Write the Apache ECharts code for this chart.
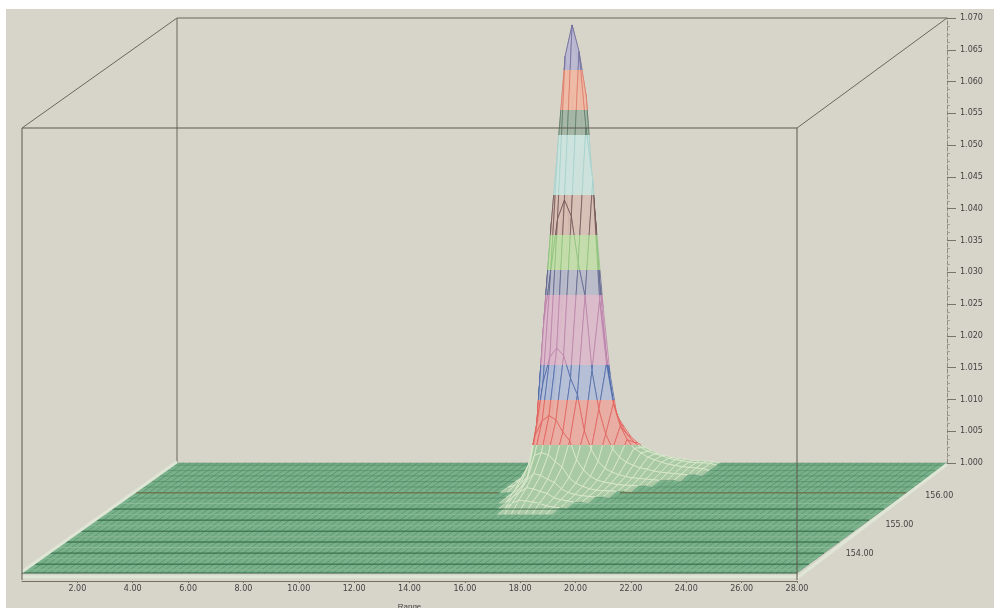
<!DOCTYPE html>
<html>
<head>
<meta charset="utf-8">
<style>
html,body{margin:0;padding:0;background:#fff;width:994px;height:608px;overflow:hidden}
#bg{position:absolute;left:6px;top:9px;width:988px;height:599px;background:#d7d4c9}
#main{position:absolute;left:0;top:0;width:994px;height:608px;filter:blur(0.75px)}
</style>
</head>
<body>
<div id="bg"></div>
<div id="main"></div>
<script src="https://cdn.jsdelivr.net/npm/echarts@6/dist/echarts.min.js"></script>
<script>
// Time axis: wire columns every 0.25, 0 to 28
const timeMin = 0, timeMax = 28, timeStep = 0.25, timeTickStep = 2;
// Intensity axis
const zMin = 1.0, zMax = 1.07, zTickStep = 0.005;
// Depth axis
const depthMin = 153.28, depthMax = 157.05;
const depthTicks = [154, 155, 156];
const depthRows = [153.28,153.39,153.58,153.77,153.96,154.15,154.34,154.52,154.71,154.90,155.09,155.28,155.47,155.66,155.84,156.03,156.22,156.41,156.60,156.79,156.97,157.05];
const strongRow = 156.03;
const strongRowSpans = [[0,13.2],[17.6,28]];
const axisName = 'Range';

// Surface readings: z at columns starting from peakStartTime; beyond each list the surface lies on 1.000
const peakStartTime = 13.25;
const row15705 = [1.0000,1.0012,1.0130,1.0240,1.0375,1.0472,1.0507,1.0470,1.0370,1.0245,1.0140,1.0075,1.0058,1.0042,1.0032,1.0025,1.0020,1.0015,1.0012,1.0009,1.0007,1.0006,1.0004,1.0004,1.0003,1.0002];
const row15697 = [1.0000,1.0015,1.0170,1.0320,1.0458,1.0576,1.0620,1.0583,1.0430,1.0280,1.0165,1.0095,1.0065,1.0048,1.0036,1.0028,1.0022,1.0018,1.0015,1.0011,1.0009,1.0007,1.0005,1.0004,1.0004,1.0003];
const row15679 = [1.0000,1.0042,1.0253,1.0394,1.0521,1.0655,1.0704,1.0662,1.0542,1.0458,1.0268,1.0169,1.0106,1.0070,1.0049,1.0035,1.0028,1.0021,1.0017,1.0013,1.0010,1.0008,1.0006,1.0005,1.0004,1.0003];
const row15660 = [1.0000,1.0010,1.0085,1.0244,1.0323,1.0406,1.0436,1.0410,1.0336,1.0284,1.0166,1.0105,1.0066,1.0043,1.0030,1.0022,1.0017,1.0013,1.0011,1.0008,1.0006,1.0005,1.0004,1.0003,1.0002,1.0002];
const row15641 = [1.0000,1.0005,1.0025,1.0075,1.0156,1.0197,1.0211,1.0199,1.0163,1.0137,1.0080,1.0051,1.0032,1.0021,1.0015,1.0011,1.0008,1.0006,1.0005,1.0004,1.0003,1.0002,1.0002,1.0002];
const row15622 = [1.0000,1.0003,1.0015,1.0035,1.0083,1.0105,1.0113,1.0106,1.0087,1.0073,1.0043,1.0027,1.0017,1.0011,1.0008,1.0006,1.0004,1.0003,1.0003,1.0002,1.0002];
const row15603 = [1.0000,1.0000,1.0001,1.0015,1.0025,1.0059,1.0063,1.0060,1.0049,1.0041,1.0024,1.0015,1.0010,1.0006,1.0004,1.0003,1.0003,1.0002,1.0002];
const row15584 = [1.0000,1.0000,1.0001,1.0009,1.0015,1.0028,1.0039,1.0036,1.0030,1.0025,1.0015,1.0009,1.0006,1.0004,1.0003,1.0002,1.0002];
const row15566 = [1.0000,1.0000,1.0000,1.0001,1.0010,1.0018,1.0025,1.0023,1.0019,1.0016,1.0009,1.0006,1.0004,1.0002,1.0002];
const row15547 = [1.0000,1.0000,1.0000,1.0000,1.0001,1.0009,1.0014,1.0013,1.0011,1.0009,1.0005,1.0003,1.0002];
const surfaceRows = {157.05:row15705,156.97:row15697,156.79:row15679,156.60:row15660,156.41:row15641,156.22:row15622,156.03:row15603,155.84:row15584,155.66:row15566,155.47:row15547};

// Colour bands of the surface, top to bottom
const bandTops = [1.0704,1.0633,1.0570,1.0530,1.0436,1.0372,1.0317,1.0278,1.0167,1.0112,1.0041];
const bandFloor = 0.9975;
const bandFills = ['#bcbad2','#eebba6','#a7b8a8','#cde3de','#d8bfb4','#c3dda9','#b8bacb','#dcb9ca','#b2bdd8','#eba99f','#a4c9a0'];
const bandLines = ['#6d6a9a','#dc7a68','#5a7a66','#a6d0ca','#6f5254','#8cc07a','#5a6088','#b880a8','#4a66a6','#e05f5a','#dfead0'];

const chart = echarts.init(document.getElementById('main'), null, {renderer:'canvas'});

const boxFloorZ = 0.9989, boxTopZ = 1.0703;
const edgesBack = [
 [timeMin,boxTopZ,depthMax,timeMax,boxTopZ,depthMax],
 [timeMin,zMin,depthMax,timeMin,boxTopZ,depthMax],
 [timeMin,boxTopZ,depthMin,timeMin,boxTopZ,depthMax],
 [timeMax,boxTopZ,depthMin,timeMax,boxTopZ,depthMax]
];
const edgesFront = [
 [timeMin,boxFloorZ,depthMin,timeMin,boxTopZ,depthMin],
 [timeMax,boxFloorZ,depthMin,timeMax,boxTopZ,depthMin],
 [timeMin,boxTopZ,depthMin,timeMax,boxTopZ,depthMin]
];
const edgesPale = [
 [timeMin,boxFloorZ+0.0005,depthMin,timeMax,boxFloorZ+0.0005,depthMin],
 [timeMin,zMin+0.0002,depthMin,timeMin,zMin+0.0002,depthMax],
 [timeMax,boxFloorZ+0.0003,depthMin,timeMax,zMin-0.0002,depthMax]
];

function project(api,t,z,depth){
  const p = api.coord([t,z]);
  const d = (depth-depthMin)/(depthMax-depthMin);
  const shift = 155-5*t/timeMax;
  return [p[0]+d*shift, p[1]-d*110];
}
function surfaceZ(col,depth){
  const row = surfaceRows[depth];
  if(!row) return zMin;
  const i = col-Math.round(peakStartTime/timeStep);
  return (i>=0 && i<row.length) ? row[i] : zMin;
}
const quads = [];
for(let r=depthRows.length-1;r>0;r--){
  const back = depthRows[r], front = depthRows[r-1];
  for(let c=0;c<Math.round((timeMax-timeMin)/timeStep);c++){
    quads.push([c*timeStep,(c+1)*timeStep,front,back,
      surfaceZ(c,front),surfaceZ(c+1,front),surfaceZ(c+1,back),surfaceZ(c,back)]);
  }
}
const floorLines = depthRows.filter((d,i)=>i%2===0 && i<14).map(d=>[timeMin,zMin,d,timeMax,zMin,d]);
const floorLight = depthRows.filter((d,i)=>i%2===1 && i<14).map(d=>[timeMin,zMin,d,timeMax,zMin,d]);
const strongLines = strongRowSpans.map(s=>[s[0],zMin,strongRow,s[1],zMin,strongRow]);

let fillGrad=null, lineGrad=null;
function buildGrads(api){
  const refDepth = 156.79;
  const top = project(api,14.75,bandTops[0],refDepth)[1];
  const bot = project(api,14.75,bandFloor,refDepth)[1];
  const off = z => (project(api,14.75,z,refDepth)[1]-top)/(bot-top);
  const make = cols => {
    const stops=[];
    bandTops.forEach((z,i)=>{
      const next = i+1<bandTops.length ? bandTops[i+1] : bandFloor;
      stops.push({offset:off(z),color:cols[i]});
      stops.push({offset:off(next),color:cols[i]});
    });
    return new echarts.graphic.LinearGradient(0,top,0,bot,stops,true);
  };
  fillGrad = make(bandFills); lineGrad = make(bandLines);
}
function renderQuad(params,api){
  if(!fillGrad) buildGrads(api);
  const t0=api.value(0),t1=api.value(1),f=api.value(2),b=api.value(3);
  const z=[api.value(4),api.value(5),api.value(6),api.value(7)];
  const pts=[project(api,t0,z[0],f),project(api,t1,z[1],f),project(api,t1,z[2],b),project(api,t0,z[3],b)];
  const lifted = Math.max.apply(null,z)>=1.00025;
  return {type:'polygon',shape:{points:pts},silent:true,
    style: lifted ? {fill:fillGrad,stroke:lineGrad,lineWidth:0.8,opacity:0.9}
                  : {fill:'#79b18a',stroke:'rgba(52,118,80,0.5)',lineWidth:0.7}};
}
function edgeRenderer(color,width){
  return function(params,api){
    const a=project(api,api.value(0),api.value(1),api.value(2));
    const b=project(api,api.value(3),api.value(4),api.value(5));
    return {type:'line',shape:{x1:a[0],y1:a[1],x2:b[0],y2:b[1]},silent:true,
      style:{stroke:color,lineWidth:width}};
  };
}
function edgeSeries(name,data,color,width,z){
  return {type:'custom',name:name,xAxisIndex:0,yAxisIndex:0,data:data,z:z,clip:false,
    animation:false,progressive:0,renderItem:edgeRenderer(color,width)};
}

chart.setOption({
  animation:false,
  backgroundColor:'transparent',
  grid:[
    {left:22,width:775,top:128,height:445,containLabel:false,outerBoundsMode:'none'},
    {left:177,width:770,top:18,height:445,containLabel:false,outerBoundsMode:'none'}
  ],
  xAxis:[
    {type:'value',gridIndex:0,min:timeMin,max:timeMax,interval:timeTickStep,offset:8,
     name:axisName,nameLocation:'middle',nameGap:22,nameTextStyle:{fontSize:8,color:'#444'},
     axisLine:{show:true,onZero:false,lineStyle:{color:'#74705f',width:1}},
     axisTick:{show:true,length:2,lineStyle:{color:'#74705f'}},
     splitLine:{show:false},
     axisLabel:{show:true,fontSize:8,color:'#444',margin:4,showMinLabel:false,fontFamily:'DejaVu Sans',
       formatter:v=>v.toFixed(2)}},
    {type:'value',gridIndex:1,min:0,max:1,show:false}
  ],
  yAxis:[
    {type:'value',gridIndex:0,min:zMin,max:boxTopZ,show:false},
    {type:'value',gridIndex:1,min:zMin,max:zMax,interval:zTickStep,position:'right',
     axisLine:{show:true,onZero:false,lineStyle:{color:'#8f8b7e',type:'dashed',width:1}},
     axisTick:{show:true,length:9,lineStyle:{color:'#77736a'}},
     minorTick:{show:true,splitNumber:4,length:3,lineStyle:{color:'#a3a094'}},
     splitLine:{show:false},
     axisLabel:{show:true,fontSize:8,color:'#444',margin:13,fontFamily:'DejaVu Sans',
       formatter:v=>v.toFixed(3)}}
  ],
  series:[
    edgeSeries('boxBack',edgesBack,'#6b675a',1,1),
    {type:'custom',name:'surface',xAxisIndex:0,yAxisIndex:0,data:quads,z:2,clip:false,
     animation:false,progressive:0,renderItem:renderQuad},
    edgeSeries('rowsDark',floorLines,'rgba(52,100,68,0.85)',1,2),
    edgeSeries('rowsLight',floorLight,'rgba(170,212,176,0.6)',1,2),
    edgeSeries('strongRows',strongLines,'#6f7a55',1.3,2),
    edgeSeries('edgesPale',edgesPale,'#dfe6d6',3,2.5),
    edgeSeries('boxFront',edgesFront,'#5d594d',1,3),
    {type:'custom',name:'depthLabels',xAxisIndex:0,yAxisIndex:0,z:3,clip:false,animation:false,
     data:depthTicks.map(d=>[d]),
     renderItem:function(params,api){
       const d=api.value(0), p=project(api,timeMax,zMin,d);
       return {type:'text',x:p[0]+34,y:p[1]+2,silent:true,
         style:{text:d.toFixed(2),fontSize:8,fill:'#444',align:'center',verticalAlign:'middle',fontFamily:'DejaVu Sans'}};
     }}
  ]
});
</script>
</body>
</html>
